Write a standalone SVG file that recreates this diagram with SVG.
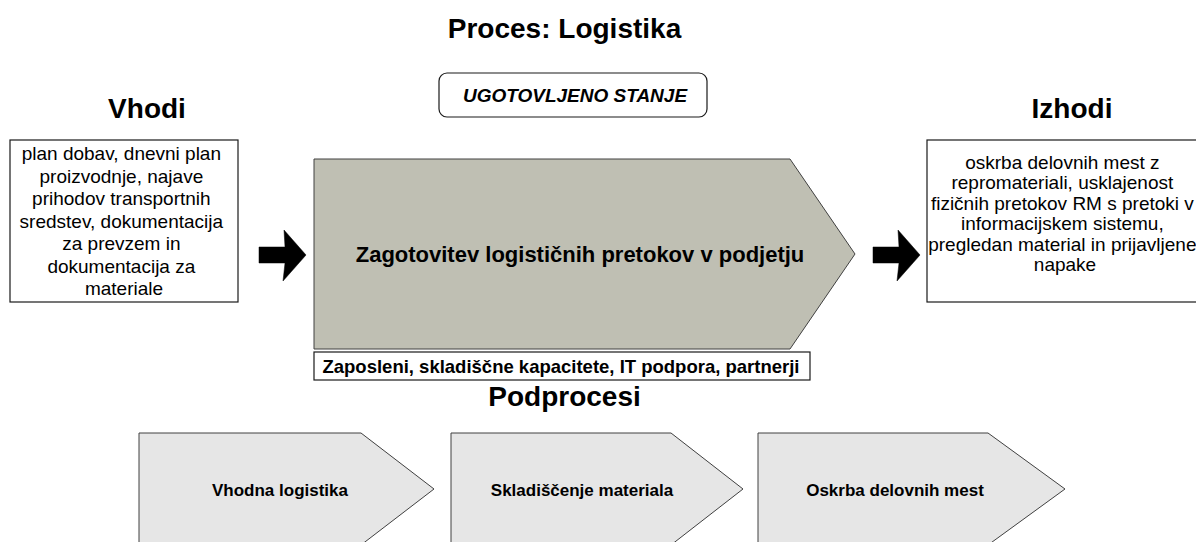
<svg xmlns="http://www.w3.org/2000/svg" width="1196" height="542" viewBox="0 0 1196 542">
<style>
  .hdr { font-family: "Liberation Sans", Arial, sans-serif; font-weight: bold; font-size: 28px; fill: #000; text-anchor: middle; }
  .box { fill: #fff; stroke: #1a1a1a; stroke-width: 1.2; }
  .txt { font-family: "Liberation Sans", Arial, sans-serif; font-size: 19px; fill: #000; text-anchor: middle; }
  .btxt { font-family: "Liberation Sans", Arial, sans-serif; font-weight: bold; fill: #000; text-anchor: middle; }
  .sub { fill: #e6e6e6; stroke: #404040; stroke-width: 1; }
  .arrow { fill: #000; stroke: #000; stroke-width: 0.5; }
</style>
<rect width="1196" height="542" fill="#fff"/>

<text class="hdr" x="564.5" y="38">Proces: Logistika</text>
<text class="hdr" x="147" y="118">Vhodi</text>
<text class="hdr" x="1072" y="118">Izhodi</text>
<text class="hdr" x="564.5" y="406">Podprocesi</text>

<g id="status">
  <rect class="box" x="439" y="73" width="268" height="44" rx="8" ry="8"/>
  <text class="btxt" x="575" y="102" font-size="19" font-style="italic">UGOTOVLJENO STANJE</text>
</g>

<g id="inputs">
  <rect class="box" x="10" y="140" width="228" height="162"/>
  <text class="txt">
    <tspan x="124" y="160">plan dobav, dnevni plan</tspan>
    <tspan x="124" y="182.5">proizvodnje, najave</tspan>
    <tspan x="124" y="205">prihodov transportnih</tspan>
    <tspan x="124" y="227.5">sredstev, dokumentacija</tspan>
    <tspan x="124" y="250">za prevzem in</tspan>
    <tspan x="124" y="272.5">dokumentacija za</tspan>
    <tspan x="124" y="295">materiale</tspan>
  </text>
</g>

<g id="outputs">
  <rect class="box" x="927" y="140" width="290" height="162"/>
  <text class="txt">
    <tspan x="1065" y="169">oskrba delovnih mest z</tspan>
    <tspan x="1065" y="189.4">repromateriali, usklajenost</tspan>
    <tspan x="1065" y="209.8">fizičnih pretokov RM s pretoki v</tspan>
    <tspan x="1065" y="230.2">informacijskem sistemu,</tspan>
    <tspan x="1065" y="250.6">pregledan material in prijavljene</tspan>
    <tspan x="1065" y="271">napake</tspan>
  </text>
</g>

<g id="process">
  <polygon points="314,159 790,159 855,254 790,349 314,349" fill="#bfbfb3" stroke="#404040" stroke-width="1"/>
  <text class="btxt" x="580" y="262" font-size="22">Zagotovitev logističnih pretokov v podjetju</text>
</g>

<g id="resources">
  <rect class="box" x="314" y="352" width="496" height="28"/>
  <text class="btxt" x="561" y="372.5" font-size="18.5">Zaposleni, skladiščne kapacitete, IT podpora, partnerji</text>
</g>

<g id="connectors">
  <polygon class="arrow" points="259,247 285,247 284,230 306,255 283,281 285,263 259,263"/>
  <polygon class="arrow" points="873,247 899,247 898,230 920,255 897,281 899,263 873,263"/>
</g>

<g id="sub1">
  <polygon class="sub" points="139,433 361,433 434,489 361,545 139,545"/>
  <text class="btxt" x="280" y="496" font-size="17">Vhodna logistika</text>
</g>
<g id="sub2">
  <polygon class="sub" points="451,433 671,433 743,489 671,545 451,545"/>
  <text class="btxt" x="582" y="496" font-size="17">Skladiščenje materiala</text>
</g>
<g id="sub3">
  <polygon class="sub" points="758,433 988,433 1065,489 988,545 758,545"/>
  <text class="btxt" x="895" y="496" font-size="17">Oskrba delovnih mest</text>
</g>
</svg>
